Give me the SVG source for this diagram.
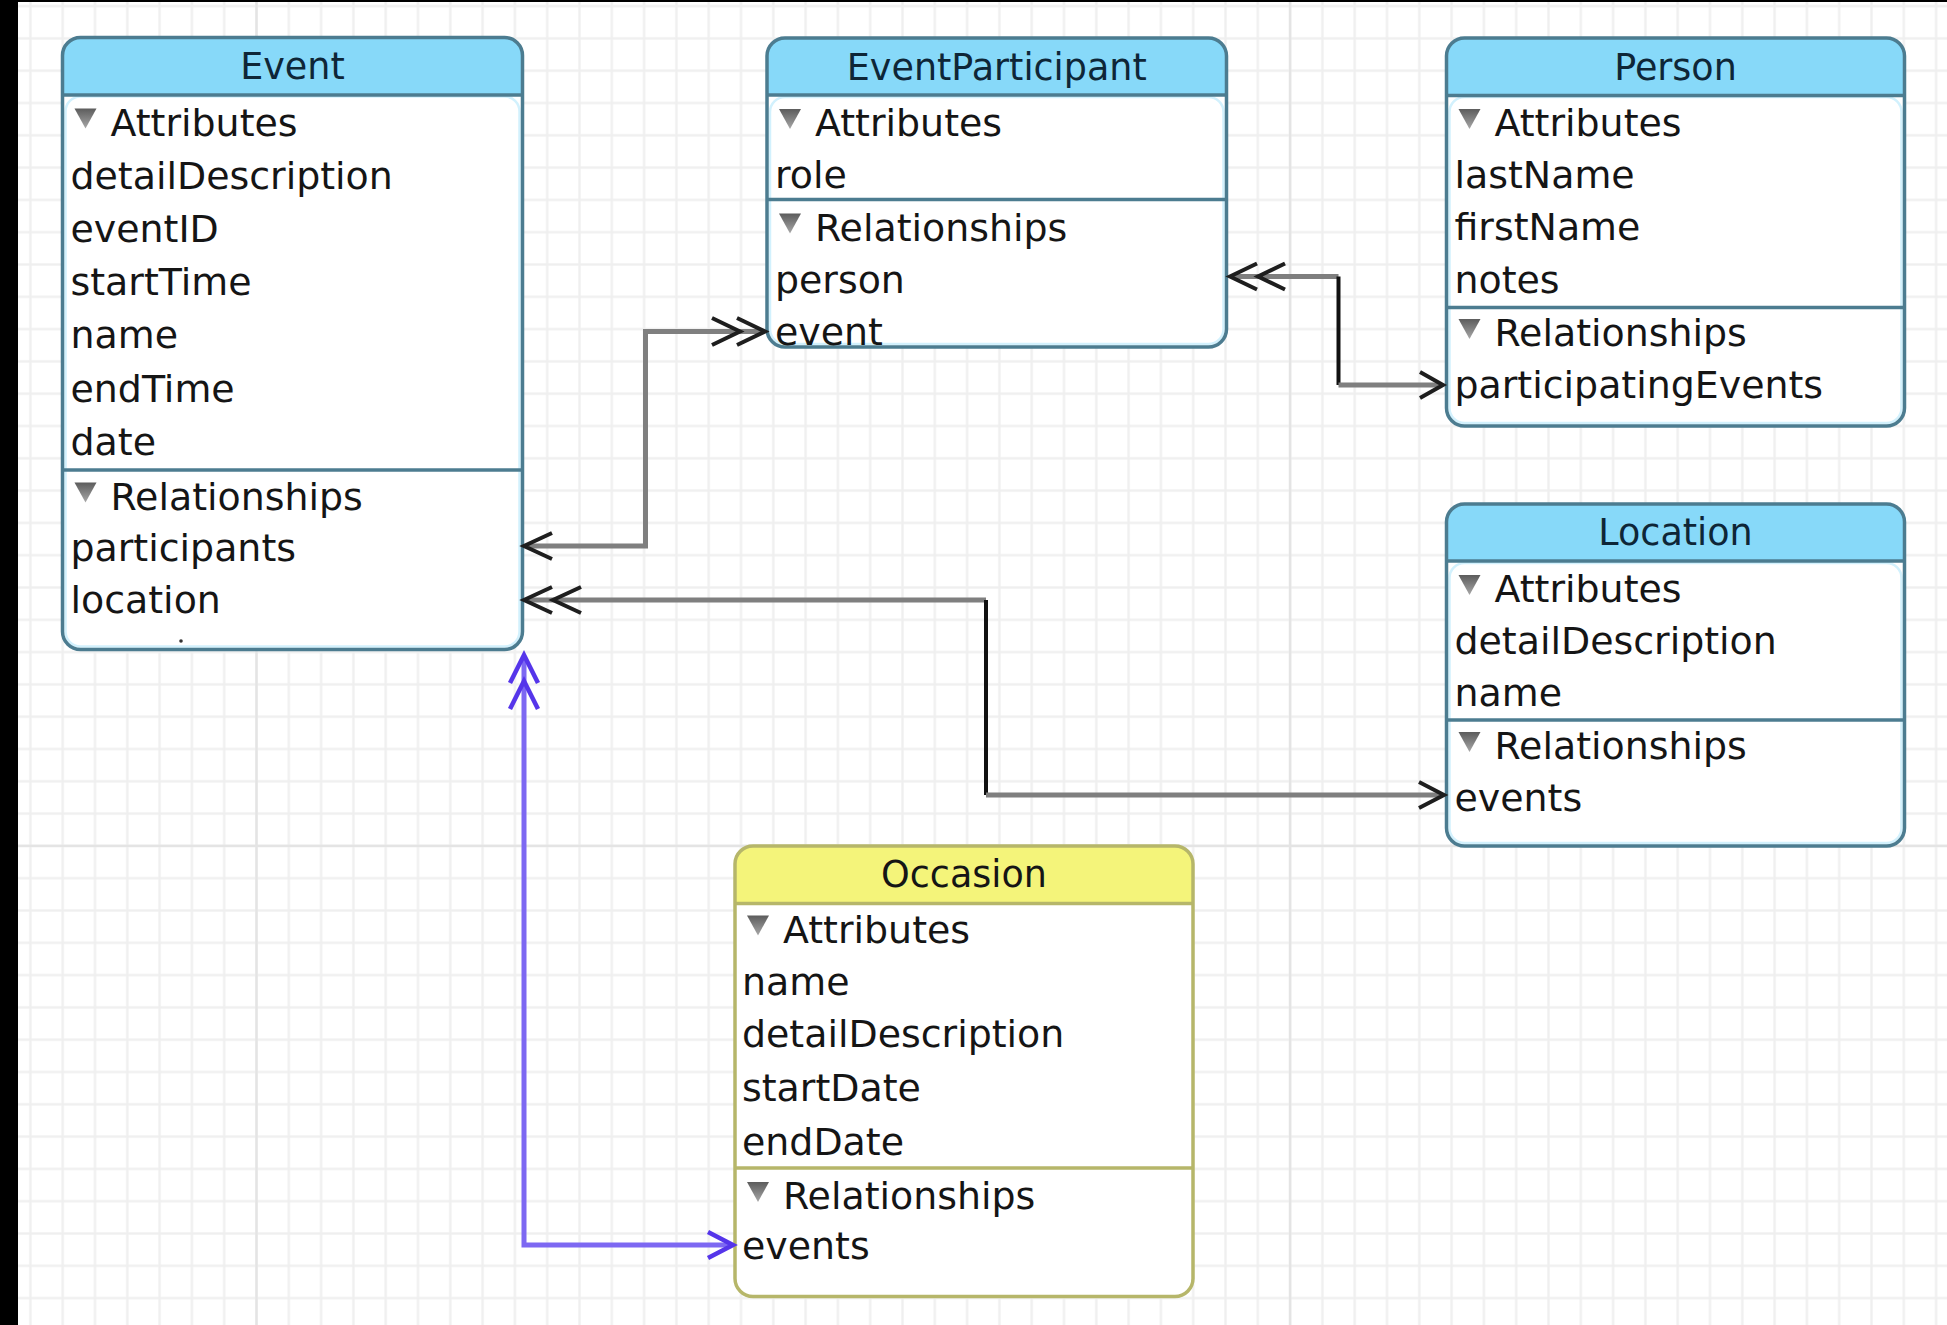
<svg xmlns="http://www.w3.org/2000/svg" width="1947" height="1325" viewBox="0 0 1947 1325">
<defs>
<style>
.body{fill:#ffffff}
.glow{fill:none;stroke:#d2f1fd;stroke-width:2.5}
.hdr{fill:#87d9f9}
.hdrY{fill:#f4f47a}
.outline{fill:none;stroke:#4c7c90;stroke-width:3.5}
.outlineY{fill:none;stroke:#b6b66a;stroke-width:3.5}
.div{stroke:#4c7c90;stroke-width:3.5}
.divY{stroke:#b6b66a;stroke-width:3.5}
.title{font-family:"DejaVu Sans","Liberation Sans",sans-serif;font-size:36.5px;fill:#0e2637;text-anchor:middle}
.titleY{font-family:"DejaVu Sans","Liberation Sans",sans-serif;font-size:36.5px;fill:#151515;text-anchor:middle}
.item{font-family:"DejaVu Sans","Liberation Sans",sans-serif;font-size:37.9px;fill:#151515}
.tri{fill:url(#tg)}
.gl{fill:none;stroke:#7f7f7f;stroke-width:5}
.bl{fill:none;stroke:#111111;stroke-width:4}
.ch{fill:none;stroke:#1e1e1e;stroke-width:4;stroke-linejoin:miter}
.pl{fill:none;stroke:#7d68f2;stroke-width:5}
.pch{fill:none;stroke:#5535ea;stroke-width:4.5}
.major{fill:#e4e4e4}
</style>
<linearGradient id="tg" x1="0" y1="0" x2="0" y2="1">
<stop offset="0" stop-color="#5c5c5c"/>
<stop offset="1" stop-color="#a8a8a8"/>
</linearGradient>
<pattern id="grid" width="32.3" height="32.3" patternUnits="userSpaceOnUse" x="14.25" y="-10.05">
<rect x="15" y="0" width="2.3" height="32.3" fill="#efefef"/>
<rect x="0" y="15" width="32.3" height="2.3" fill="#efefef"/>
</pattern>
<path id="tri" d="M12,-27 H34 L23,-7 Z"/>
</defs>

<g id="background">
<rect x="0" y="0" width="1947" height="1325" fill="#ffffff"/>
<rect x="0" y="0" width="1947" height="1325" fill="url(#grid)"/>
<rect class="major" x="255.3" y="0" width="2.4" height="1325"/>
<rect class="major" x="1288.9" y="0" width="2.4" height="1325"/>
<rect class="major" x="0" y="844.7" width="1947" height="2.4"/>
<rect x="0" y="0" width="18" height="1325" fill="#000000"/>
<rect x="0" y="0" width="1947" height="2" fill="#000000"/>
</g>

<g id="node-Event" transform="translate(62.5,37.5)">
<rect class="body" x="0" y="0" width="460" height="612" rx="18"/>
<rect class="glow" x="3" y="59" width="454" height="550" rx="15"/>
<path class="hdr" d="M0,18 A18,18 0 0 1 18,0 H442 A18,18 0 0 1 460,18 V57.5 H0 Z"/>
<line class="div" x1="0" y1="57.5" x2="460" y2="57.5"/>
<line class="div" x1="0" y1="432.5" x2="460" y2="432.5"/>
<rect class="outline" x="0" y="0" width="460" height="612" rx="18"/>
<text class="title" x="230" y="41.5">Event</text>
<use href="#tri" class="tri" y="98"/>
<text class="item" x="48" y="98">Attributes</text>
<text class="item" x="8" y="151">detailDescription</text>
<text class="item" x="8" y="204">eventID</text>
<text class="item" x="8" y="257.5">startTime</text>
<text class="item" x="8" y="310.5">name</text>
<text class="item" x="8" y="364">endTime</text>
<text class="item" x="8" y="417.5">date</text>
<use href="#tri" class="tri" y="472"/>
<text class="item" x="48" y="472">Relationships</text>
<text class="item" x="8" y="523.5">participants</text>
<text class="item" x="8" y="575.5">location</text>
<circle cx="118.5" cy="603.5" r="1.8" fill="#333333"/>
</g>

<g id="node-EventParticipant" transform="translate(767,38)">
<rect class="body" x="0" y="0" width="459.5" height="309" rx="18"/>
<rect class="glow" x="3" y="59" width="453.5" height="247" rx="15"/>
<path class="hdr" d="M0,18 A18,18 0 0 1 18,0 H441.5 A18,18 0 0 1 459.5,18 V57 H0 Z"/>
<line class="div" x1="0" y1="57" x2="459.5" y2="57"/>
<line class="div" x1="0" y1="161.5" x2="459.5" y2="161.5"/>
<rect class="outline" x="0" y="0" width="459.5" height="309" rx="18"/>
<text class="title" x="229.75" y="41.5">EventParticipant</text>
<use href="#tri" class="tri" y="98"/>
<text class="item" x="48" y="98">Attributes</text>
<text class="item" x="8" y="150">role</text>
<use href="#tri" class="tri" y="202.5"/>
<text class="item" x="48" y="202.5">Relationships</text>
<text class="item" x="8" y="254.5">person</text>
<text class="item" x="8" y="307">event</text>
</g>

<g id="node-Person" transform="translate(1446.5,38)">
<rect class="body" x="0" y="0" width="458" height="388" rx="18"/>
<rect class="glow" x="3" y="59" width="452" height="326" rx="15"/>
<path class="hdr" d="M0,18 A18,18 0 0 1 18,0 H440 A18,18 0 0 1 458,18 V57.5 H0 Z"/>
<line class="div" x1="0" y1="57.5" x2="458" y2="57.5"/>
<line class="div" x1="0" y1="269.5" x2="458" y2="269.5"/>
<rect class="outline" x="0" y="0" width="458" height="388" rx="18"/>
<text class="title" x="229" y="41.5">Person</text>
<use href="#tri" class="tri" y="98"/>
<text class="item" x="48" y="98">Attributes</text>
<text class="item" x="8" y="149.5">lastName</text>
<text class="item" x="8" y="202">firstName</text>
<text class="item" x="8" y="254.5">notes</text>
<use href="#tri" class="tri" y="308"/>
<text class="item" x="48" y="308">Relationships</text>
<text class="item" x="8" y="359.5">participatingEvents</text>
</g>

<g id="node-Location" transform="translate(1446.5,504)">
<rect class="body" x="0" y="0" width="458" height="342" rx="18"/>
<rect class="glow" x="3" y="59" width="452" height="280" rx="15"/>
<path class="hdr" d="M0,18 A18,18 0 0 1 18,0 H440 A18,18 0 0 1 458,18 V57 H0 Z"/>
<line class="div" x1="0" y1="57" x2="458" y2="57"/>
<line class="div" x1="0" y1="216" x2="458" y2="216"/>
<rect class="outline" x="0" y="0" width="458" height="342" rx="18"/>
<text class="title" x="229" y="41">Location</text>
<use href="#tri" class="tri" y="98"/>
<text class="item" x="48" y="98">Attributes</text>
<text class="item" x="8" y="149.5">detailDescription</text>
<text class="item" x="8" y="202">name</text>
<use href="#tri" class="tri" y="255"/>
<text class="item" x="48" y="255">Relationships</text>
<text class="item" x="8" y="306.5">events</text>
</g>

<g id="node-Occasion" transform="translate(735,846)">
<rect class="body" x="0" y="0" width="458" height="450.5" rx="18"/>
<path class="hdrY" d="M0,18 A18,18 0 0 1 18,0 H440 A18,18 0 0 1 458,18 V57.5 H0 Z"/>
<line class="divY" x1="0" y1="57.5" x2="458" y2="57.5"/>
<line class="divY" x1="0" y1="322" x2="458" y2="322"/>
<rect class="outlineY" x="0" y="0" width="458" height="450.5" rx="18"/>
<text class="titleY" x="229" y="41">Occasion</text>
<use href="#tri" class="tri" y="96.5"/>
<text class="item" x="48" y="96.5">Attributes</text>
<text class="item" x="7" y="148.5">name</text>
<text class="item" x="7" y="201">detailDescription</text>
<text class="item" x="7" y="255">startDate</text>
<text class="item" x="7" y="309">endDate</text>
<use href="#tri" class="tri" y="363"/>
<text class="item" x="48" y="363">Relationships</text>
<text class="item" x="7" y="413">events</text>
</g>

<g id="connectors">
<path class="gl" d="M528,546 H645.5 V331.5 H763"/>
<polyline class="ch" points="712,318 740,331.5 712,345"/>
<polyline class="ch" points="737,318 765,331.5 737,345"/>
<polyline class="ch" points="552,533 524,546 552,559"/>

<path class="gl" d="M528,600 H986"/>
<path class="bl" d="M986,600 V795"/>
<path class="gl" d="M986,795 H1442"/>
<polyline class="ch" points="552,587 524,600 552,613"/>
<polyline class="ch" points="581,587 553,600 581,613"/>
<polyline class="ch" points="1419,782 1444,795 1419,808"/>

<path class="gl" d="M1232,276.5 H1338.5"/>
<path class="bl" d="M1338.5,276.5 V385"/>
<path class="gl" d="M1338.5,385 H1441"/>
<polyline class="ch" points="1257,263.5 1230,276.5 1257,289.5"/>
<polyline class="ch" points="1285,263.5 1258,276.5 1285,289.5"/>
<polyline class="ch" points="1420,372 1443,385 1420,398"/>

<path class="pl" d="M524,659 V1245 H731"/>
<polyline class="pch" points="510,683 524,655 538,683"/>
<polyline class="pch" points="510,709 524,681 538,709"/>
<polyline class="pch" points="708,1232 733,1245 708,1258"/>
</g>
</svg>
